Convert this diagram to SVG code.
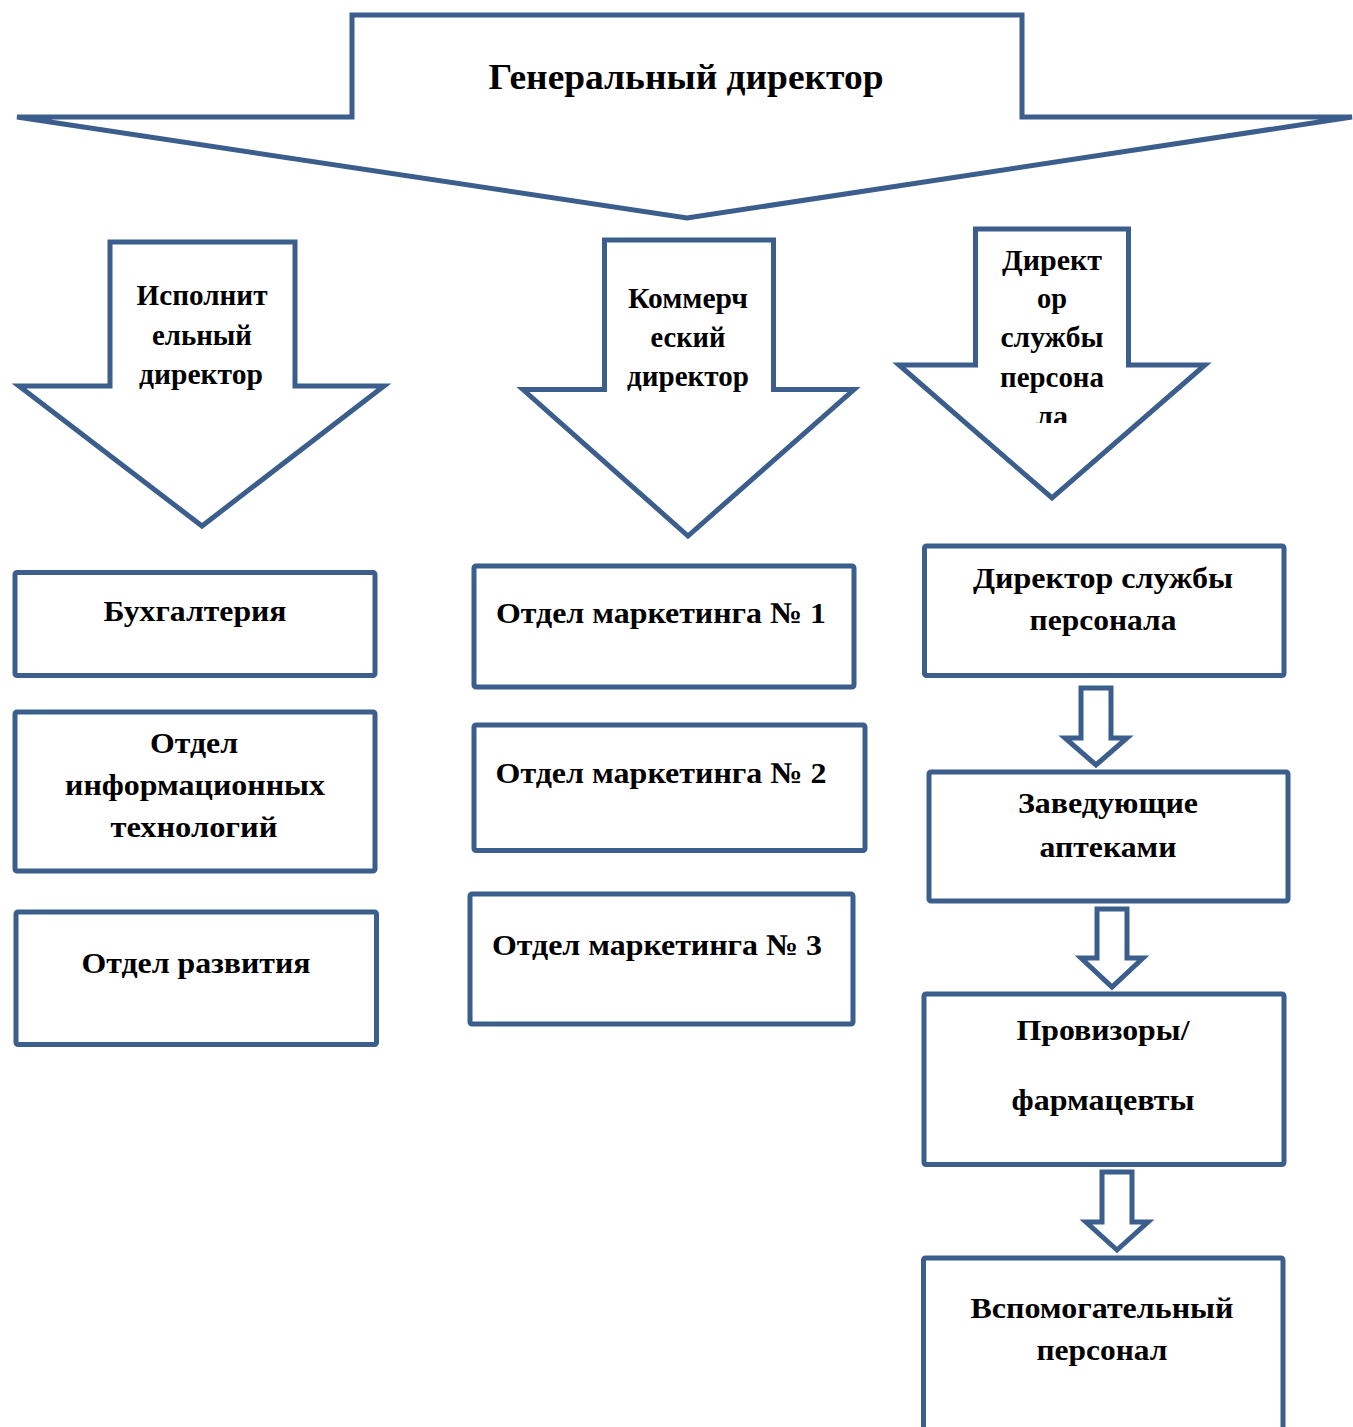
<svg xmlns="http://www.w3.org/2000/svg" width="1353" height="1427" viewBox="0 0 1353 1427">
<style>
  .shape{fill:#ffffff;stroke:#3B5E8C;stroke-width:5;stroke-linejoin:miter}
  .box{fill:#ffffff;stroke:#3B5E8C;stroke-width:5}
  .t{font-family:"Liberation Serif","Times New Roman",serif;font-weight:bold;fill:#000000;text-anchor:middle}
  .big{font-size:35px}
  .a{font-size:29px}
  .b{font-size:30px}
</style>
<defs>
  <clipPath id="clip3"><rect x="960" y="229" width="180" height="194"/></clipPath>
</defs>
<rect x="0" y="0" width="1353" height="1427" fill="#ffffff"/>

<g id="gen-director">
  <polygon class="shape" points="17,117 352,117 352,15 1022,15 1022,117 1352,117 687,218"/>
  <text class="t big" x="686" y="89" textLength="395" lengthAdjust="spacingAndGlyphs">Генеральный директор</text>
</g>

<g id="exec-director">
  <polygon class="shape" points="110,242 295,242 295,386 384,386 202,526 19,386 110,386"/>
  <text class="t a" x="202" y="305" textLength="131" lengthAdjust="spacingAndGlyphs">Исполнит</text>
  <text class="t a" x="202" y="345" textLength="100" lengthAdjust="spacingAndGlyphs">ельный</text>
  <text class="t a" x="201" y="384" textLength="124" lengthAdjust="spacingAndGlyphs">директор</text>
</g>

<g id="comm-director">
  <polygon class="shape" points="604.5,240 773.5,240 773.5,389.5 854,389.5 688,536 523,389.5 604.5,389.5"/>
  <text class="t a" x="688" y="308" textLength="120" lengthAdjust="spacingAndGlyphs">Коммерч</text>
  <text class="t a" x="688" y="347" textLength="75" lengthAdjust="spacingAndGlyphs">еский</text>
  <text class="t a" x="688" y="386" textLength="122" lengthAdjust="spacingAndGlyphs">директор</text>
</g>

<g id="hr-director-arrow">
  <polygon class="shape" points="975.5,229 1128.5,229 1128.5,365 1205,365 1052,498 899,365 975.5,365"/>
  <g clip-path="url(#clip3)">
    <text class="t a" x="1052" y="270" textLength="100" lengthAdjust="spacingAndGlyphs">Директ</text>
    <text class="t a" x="1052" y="308" textLength="30" lengthAdjust="spacingAndGlyphs">ор</text>
    <text class="t a" x="1052" y="347" textLength="103" lengthAdjust="spacingAndGlyphs">службы</text>
    <text class="t a" x="1052" y="387" textLength="104" lengthAdjust="spacingAndGlyphs">персона</text>
    <text class="t a" x="1052" y="426" textLength="32" lengthAdjust="spacingAndGlyphs">ла</text>
  </g>
</g>

<g id="accounting">
  <rect class="box" x="15" y="572.5" width="360" height="103" rx="2"/>
  <text class="t b" x="195" y="621" textLength="183" lengthAdjust="spacingAndGlyphs">Бухгалтерия</text>
</g>

<g id="it-dept">
  <rect class="box" x="15" y="712" width="360" height="159" rx="2"/>
  <text class="t b" x="194" y="753" textLength="88" lengthAdjust="spacingAndGlyphs">Отдел</text>
  <text class="t b" x="195" y="795" textLength="260" lengthAdjust="spacingAndGlyphs">информационных</text>
  <text class="t b" x="194" y="837" textLength="167" lengthAdjust="spacingAndGlyphs">технологий</text>
</g>

<g id="dev-dept">
  <rect class="box" x="16" y="912" width="360.5" height="132.5" rx="2"/>
  <text class="t b" x="196" y="973" textLength="229" lengthAdjust="spacingAndGlyphs">Отдел развития</text>
</g>

<g id="marketing-1">
  <rect class="box" x="474" y="566" width="380" height="121" rx="2"/>
  <text class="t b" x="661" y="623" textLength="330" lengthAdjust="spacingAndGlyphs">Отдел маркетинга № 1</text>
</g>

<g id="marketing-2">
  <rect class="box" x="474" y="725" width="391" height="125.5" rx="2"/>
  <text class="t b" x="661" y="783" textLength="331" lengthAdjust="spacingAndGlyphs">Отдел маркетинга № 2</text>
</g>

<g id="marketing-3">
  <rect class="box" x="470" y="894" width="383" height="130" rx="2"/>
  <text class="t b" x="657" y="955" textLength="330" lengthAdjust="spacingAndGlyphs">Отдел маркетинга № 3</text>
</g>

<g id="hr-director">
  <rect class="box" x="924.5" y="546" width="359.5" height="129.5" rx="2"/>
  <text class="t b" x="1103" y="588" textLength="260" lengthAdjust="spacingAndGlyphs">Директор службы</text>
  <text class="t b" x="1103" y="630" textLength="147" lengthAdjust="spacingAndGlyphs">персонала</text>
</g>

<g id="pharmacy-heads">
  <rect class="box" x="929" y="772" width="359" height="129" rx="2"/>
  <text class="t b" x="1108" y="813" textLength="180" lengthAdjust="spacingAndGlyphs">Заведующие</text>
  <text class="t b" x="1108" y="857" textLength="137" lengthAdjust="spacingAndGlyphs">аптеками</text>
</g>

<g id="pharmacists">
  <rect class="box" x="924" y="994" width="360" height="170.5" rx="2"/>
  <text class="t b" x="1103" y="1040" textLength="173" lengthAdjust="spacingAndGlyphs">Провизоры/</text>
  <text class="t b" x="1103" y="1110" textLength="183" lengthAdjust="spacingAndGlyphs">фармацевты</text>
</g>

<g id="support-staff">
  <rect class="box" x="923.5" y="1258" width="359.5" height="200" rx="2"/>
  <text class="t b" x="1102" y="1318" textLength="263" lengthAdjust="spacingAndGlyphs">Вспомогательный</text>
  <text class="t b" x="1102" y="1360" textLength="131" lengthAdjust="spacingAndGlyphs">персонал</text>
</g>

<g id="connectors">
  <polygon class="shape" points="1081,688 1111,688 1111,738 1127,738 1096,765 1065,738 1081,738"/>
  <polygon class="shape" points="1097,909 1127,909 1127,958 1143,958 1112,987 1081,958 1097,958"/>
  <polygon class="shape" points="1102,1172 1132,1172 1132,1222 1148,1222 1117,1250 1086,1222 1102,1222"/>
</g>
</svg>
